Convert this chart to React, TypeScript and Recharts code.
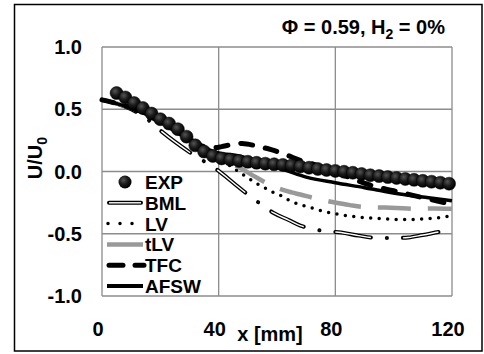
import React from "react";
import { ComposedChart, Line, Scatter, XAxis, YAxis, CartesianGrid, Legend } from "recharts";

const FONT = '"Liberation Sans", Arial, sans-serif';

const xTicks = [0, 40, 80, 120];
const yTicks = [-1, -0.5, 0, 0.5, 1];
const legendNames = ["EXP", "BML", "LV", "tLV", "TFC", "AFSW"];

// experiment (dots)
const expX = [5, 8, 11, 14, 17, 20, 23, 26, 29, 32, 35, 38, 41, 44, 47, 50, 53, 56, 59, 62, 65, 68, 71, 74, 77, 80, 83, 86, 89, 92, 95, 98, 101, 104, 107, 110, 113, 116, 119];
const expY = [0.63, 0.595, 0.55, 0.51, 0.465, 0.42, 0.385, 0.34, 0.28, 0.21, 0.16, 0.125, 0.105, 0.095, 0.085, 0.078, 0.07, 0.063, 0.058, 0.053, 0.048, 0.04, 0.03, 0.02, 0.012, 0.005, -0.002, -0.01, -0.02, -0.03, -0.037, -0.045, -0.052, -0.06, -0.067, -0.075, -0.082, -0.09, -0.098];

// models
const bmlX = [0, 5, 10, 15, 20.5, 30, 40, 45, 50, 54, 59, 64, 68, 72, 76, 82, 88, 95, 100, 105, 110, 117, 120];
const bmlY = [0.575, 0.545, 0.5, 0.43, 0.32, 0.155, 0.005, -0.09, -0.185, -0.255, -0.335, -0.39, -0.435, -0.46, -0.478, -0.49, -0.515, -0.535, -0.535, -0.53, -0.51, -0.48, -0.47];

const lvX = [0, 10, 20, 30, 35, 40, 44, 47.3, 50, 52.5, 55, 58, 61, 64, 67, 70, 73, 76, 79, 82, 85, 88, 92, 96, 101, 106, 111, 116, 120];
const lvY = [0.575, 0.51, 0.4, 0.25, 0.17, 0.1, 0.045, -0.01, -0.05, -0.09, -0.12, -0.16, -0.19, -0.23, -0.26, -0.28, -0.3, -0.32, -0.335, -0.348, -0.357, -0.367, -0.373, -0.378, -0.385, -0.385, -0.38, -0.37, -0.355];

const tlvX = [0, 10, 20, 30, 35, 40, 44, 48, 52, 57, 62, 65, 68, 73, 79, 85, 91, 97, 103, 108, 114, 120];
const tlvY = [0.575, 0.51, 0.4, 0.25, 0.17, 0.105, 0.065, 0.02, -0.035, -0.1, -0.148, -0.168, -0.185, -0.215, -0.245, -0.27, -0.287, -0.29, -0.295, -0.3, -0.297, -0.3];

const tfcX = [0, 10, 20, 30, 35, 38, 41, 44, 48, 53, 58, 63, 68, 73, 77, 85, 92, 100, 110, 120];
const tfcY = [0.575, 0.51, 0.4, 0.26, 0.2, 0.19, 0.2, 0.215, 0.225, 0.205, 0.175, 0.135, 0.09, 0.055, 0.02, -0.05, -0.11, -0.155, -0.21, -0.265];

const afswX = [0, 5, 10, 15, 20, 25, 30, 35, 40, 47, 55, 63, 70, 80, 90, 97, 105, 112, 120];
const afswY = [0.575, 0.545, 0.51, 0.46, 0.4, 0.33, 0.25, 0.19, 0.15, 0.125, 0.07, 0.01, -0.045, -0.09, -0.13, -0.16, -0.19, -0.21, -0.235];

const zip = (xs: number[], ys: number[]) => xs.map((x, i) => ({ x, y: ys[i] }));

const expData = zip(expX, expY);
const bmlData = zip(bmlX, bmlY);
const lvData = zip(lvX, lvY);
const tlvData = zip(tlvX, tlvY);
const tfcData = zip(tfcX, tfcY);
const afswData = zip(afswX, afswY);

const BML_DASH = "36 16 0.1 16";

const XTick = (props: any) => {
  const { x, y, payload } = props;
  return (
    <text x={x - 4} y={y + 40} textAnchor="middle" fontFamily={FONT} fontWeight="bold" fontSize={20} fill="#000">
      {payload.value}
    </text>
  );
};

const YTick = (props: any) => {
  const { x, y, payload } = props;
  return (
    <text x={x - 20} y={y + 7} textAnchor="end" fontFamily={FONT} fontWeight="bold" fontSize={20} fill="#000">
      {Number(payload.value).toFixed(1)}
    </text>
  );
};

const ExpDot = (props: any) => (
  <circle cx={props.cx} cy={props.cy} r={6.5} fill="url(#expGrad)" stroke="#000" strokeWidth={0.5} />
);

const renderLegend = () => (
  <svg width={140} height={130} style={{ display: "block", overflow: "visible" }}>
    <defs>
      <radialGradient id="expGradL" cx="38%" cy="35%" r="65%">
        <stop offset="0%" stopColor="#555" />
        <stop offset="50%" stopColor="#1c1c1c" />
        <stop offset="100%" stopColor="#000" />
      </radialGradient>
    </defs>
    {legendNames.map((name, i) => {
      const cy = 12 + i * 20.8;
      let sym: React.ReactNode = null;
      if (name === "EXP") sym = <circle cx={25} cy={cy} r={6.5} fill="url(#expGradL)" />;
      if (name === "BML")
        sym = (
          <g>
            <line x1={9} x2={41} y1={cy} y2={cy} stroke="#000" strokeWidth={4} strokeLinecap="round" />
            <line x1={9} x2={41} y1={cy} y2={cy} stroke="#fff" strokeWidth={1.4} />
          </g>
        );
      if (name === "LV")
        sym = <line x1={8} x2={44} y1={cy} y2={cy} stroke="#000" strokeWidth={3.5} strokeLinecap="round" strokeDasharray="0 12" />;
      if (name === "tLV") sym = <line x1={7} x2={43} y1={cy} y2={cy} stroke="#999" strokeWidth={4.5} />;
      if (name === "TFC")
        sym = <line x1={9} x2={44} y1={cy} y2={cy} stroke="#000" strokeWidth={5} strokeLinecap="round" strokeDasharray="14 12" />;
      if (name === "AFSW") sym = <line x1={7} x2={43} y1={cy} y2={cy} stroke="#000" strokeWidth={4} />;
      return (
        <g key={name}>
          {sym}
          <text x={45} y={cy + 7} fontFamily={FONT} fontWeight="bold" fontSize={19} fill="#000">
            {name}
          </text>
        </g>
      );
    })}
  </svg>
);

export default function App() {
  return (
    <div style={{ position: "absolute", left: 0, top: 0, width: 484, height: 354, background: "#fff" }}>
      <ComposedChart width={484} height={354} margin={{ top: 47, right: 32, bottom: 0, left: 0 }}>
        <defs>
          <radialGradient id="expGrad" cx="38%" cy="35%" r="65%">
            <stop offset="0%" stopColor="#555" />
            <stop offset="50%" stopColor="#1c1c1c" />
            <stop offset="100%" stopColor="#000" />
          </radialGradient>
        </defs>
        <CartesianGrid stroke="#8c8c8c" strokeWidth={1.3} />
        <XAxis
          dataKey="x"
          type="number"
          domain={[0, 120]}
          ticks={xTicks}
          height={58}
          axisLine={false}
          tickLine={false}
          tickSize={0}
          tickMargin={0}
          tick={<XTick />}
          label={{
            content: () => (
              <text x={270} y={341} textAnchor="middle" fontFamily={FONT} fontWeight="bold" fontSize={20} fill="#000">
                x [mm]
              </text>
            ),
          }}
        />
        <YAxis
          type="number"
          domain={[-1, 1]}
          ticks={yTicks}
          width={102}
          axisLine={false}
          tickLine={false}
          tickSize={0}
          tickMargin={0}
          tick={<YTick />}
          label={{
            content: () => (
              <text
                x={42}
                y={158}
                transform="rotate(-90 42 158)"
                textAnchor="middle"
                fontFamily={FONT}
                fontWeight="bold"
                fontSize={20}
                fill="#000"
              >
                U/U<tspan dy={5} fontSize={14}>0</tspan>
              </text>
            ),
          }}
        />
        <Scatter data={expData} dataKey="y" shape={ExpDot} isAnimationActive={false} />
        <Line data={bmlData} dataKey="y" type="monotone" stroke="#000" strokeWidth={4} strokeLinecap="round" strokeDasharray={BML_DASH} dot={false} isAnimationActive={false} />
        <Line data={bmlData} dataKey="y" type="monotone" stroke="#fff" strokeWidth={1.4} strokeDasharray={BML_DASH} dot={false} isAnimationActive={false} />
        <Line data={lvData} dataKey="y" type="monotone" stroke="#000" strokeWidth={3.5} strokeLinecap="round" strokeDasharray="0 8.5" dot={false} isAnimationActive={false} />
        <Line data={tlvData} dataKey="y" type="monotone" stroke="#999" strokeWidth={4.5} strokeDasharray="33 17" dot={false} isAnimationActive={false} />
        <Line data={tfcData} dataKey="y" type="monotone" stroke="#000" strokeWidth={5} strokeLinecap="round" strokeDasharray="12 13" dot={false} isAnimationActive={false} />
        <Line data={afswData} dataKey="y" type="monotone" stroke="#000" strokeWidth={3.5} dot={false} isAnimationActive={false} />
        <Legend
          layout="vertical"
          align="center"
          verticalAlign="middle"
          wrapperStyle={{ left: 100, top: 170, width: 140 }}
          content={renderLegend}
        />
      </ComposedChart>
      <svg width={484} height={354} style={{ position: "absolute", left: 0, top: 0, pointerEvents: "none" }}>
        <text x={445} y={34} textAnchor="end" fontFamily={FONT} fontWeight="bold" fontSize={20} fill="#000">
          Φ = 0.59, H<tspan dy={5} fontSize={14}>2</tspan>
          <tspan dy={-5}> = 0%</tspan>
        </text>
        <rect x={14.5} y={4.5} width={467.5} height={346.5} fill="none" stroke="#000" strokeWidth={1.5} />
      </svg>
    </div>
  );
}
